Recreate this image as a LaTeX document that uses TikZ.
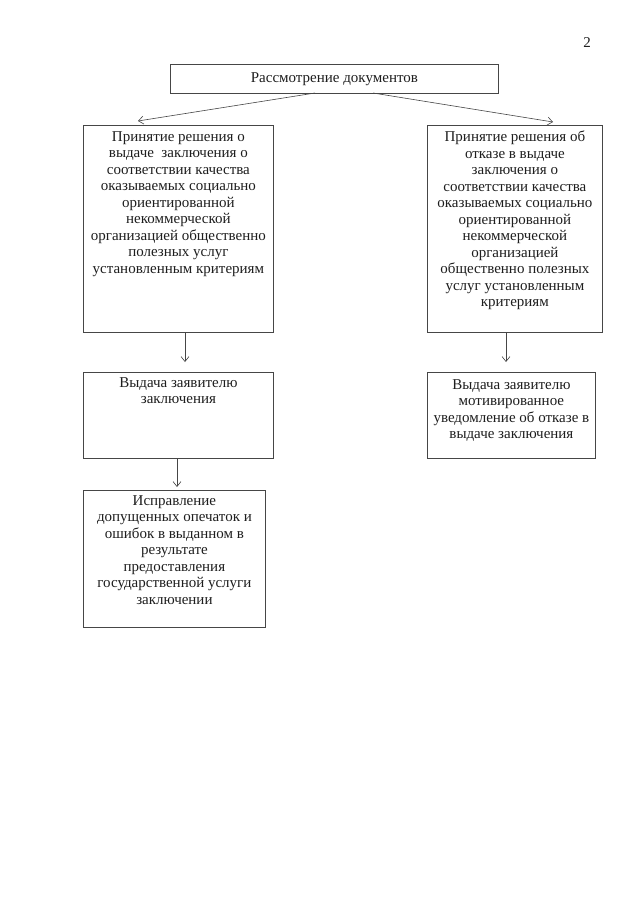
\documentclass[tikz,border=0pt]{standalone}
\usepackage{fontspec}
\setmainfont{Liberation Serif}
\usetikzlibrary{arrows.meta,calc}
\definecolor{docline}{RGB}{70,70,70}
\definecolor{doctext}{RGB}{30,30,30}

\tikzset{
  frame/.style={draw=docline,line width=0.8pt,anchor=north west,inner sep=0pt},
  label/.style={text=doctext,align=center,anchor=north,inner sep=0pt,
    font=\fontsize{15}{16.5}\selectfont},
  arr/.style={draw=docline,line width=0.6pt,-{Straight Barb[length=5pt,width=8pt]}}
}

\begin{document}
\begin{tikzpicture}[x=1pt,y=-1pt]
  \useasboundingbox[fill=white] (0,0) rectangle (640,905);
  \node[label] (page) at (587,37) {2};
  % top step
  \node[frame,minimum width=328,minimum height=29] (review) at (170,64) {};
  \node[label,anchor=center] (reviewtxt) at (review.center) {Рассмотрение документов};
  % left branch
  \node[frame,minimum width=190,minimum height=207] (accept) at (83,125) {};
  \node[label] (accepttxt) at ($(accept.north)+(0,6)$) {Принятие решения о\\выдаче\ \ заключения о\\соответствии качества\\оказываемых социально\\ориентированной\\некоммерческой\\организацией общественно\\полезных услуг\\установленным критериям};
  \node[frame,minimum width=190,minimum height=86] (issue) at (83,372) {};
  \node[label] (issuetxt) at ($(issue.north)+(0,5)$) {Выдача заявителю\\заключения};
  \node[frame,minimum width=182,minimum height=137] (fix) at (83,490) {};
  \node[label] (fixtxt) at ($(fix.north)+(0,5)$) {Исправление\\допущенных опечаток и\\ошибок в выданном в\\результате\\предоставления\\государственной услуги\\заключении};
  % right branch
  \node[frame,minimum width=175,minimum height=207] (refuse) at (427,125) {};
  \node[label] (refusetxt) at ($(refuse.north)+(0,6)$) {Принятие решения об\\отказе в выдаче\\заключения о\\соответствии качества\\оказываемых социально\\ориентированной\\некоммерческой\\организацией\\общественно полезных\\услуг установленным\\критериям};
  \node[frame,minimum width=168,minimum height=86] (notice) at (427,372) {};
  \node[label] (noticetxt) at ($(notice.north)+(0,7)$) {Выдача заявителю\\мотивированное\\уведомление об отказе в\\выдаче заключения};
  % connectors
  \coordinate (toleft) at (138,121);
  \coordinate (toright) at (553,122);
  \draw[arr] (315,93) coordinate (fromleft) -- (toleft);
  \draw[arr] (373,93) coordinate (fromright) -- (toright);
  \coordinate (toissue) at (185,362);
  \coordinate (tofix) at (177,487);
  \coordinate (tonotice) at (506,362);
  \draw[arr] (accept.south -| toissue) -- (toissue);
  \draw[arr] (issue.south -| tofix) -- (tofix);
  \draw[arr] (refuse.south -| tonotice) -- (tonotice);
\end{tikzpicture}
\end{document}
